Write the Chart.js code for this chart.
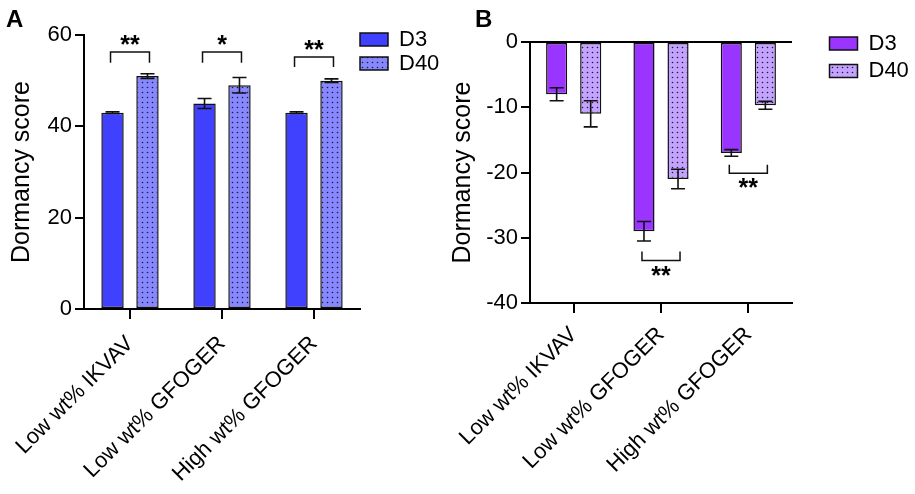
<!DOCTYPE html>
<html>
<head>
<meta charset="utf-8">
<script src="https://cdn.jsdelivr.net/npm/chart.js@4.4.1/dist/chart.umd.min.js"></script>
<style>
  body { margin: 0; background: #fff; }
  .panel { position: absolute; top: 0; }
  .tag { position: absolute; font: bold 24px "Liberation Sans", Arial, sans-serif; line-height: 24px; color: #000; }
</style>
</head>
<body>
<div class="panel" style="left:0"><canvas id="chartA" width="450" height="494"></canvas></div>
<div class="panel" style="left:450px"><canvas id="chartB" width="465" height="494"></canvas></div>
<div class="tag" style="left:6px;top:7px">A</div>
<div class="tag" style="left:475px;top:7px">B</div>
<script>
const categories = ['Low wt% IKVAV', 'Low wt% GFOGER', 'High wt% GFOGER'];
const seriesNames = ['D3', 'D40'];

// panel A
const scoreA_D3 = [43, 45, 43];
const scoreA_D40 = [51, 49, 50];
const errA_D3 = [0.2, 1.1, 0.2];
const errA_D40 = [0.5, 1.7, 0.4];
const ticksA = [0, 20, 40, 60];
const sigA = ['**', '*', '**'];
const sigA_top = [56.3, 56.3, 55.2];
const sigA_leg = [53.9, 53.9, 53.0];

// panel B
const scoreB_D3 = [-8, -29, -17];
const scoreB_D40 = [-11, -21, -9.7];
const errB_D3 = [1, 1.5, 0.5];
const errB_D40 = [2, 1.5, 0.6];
const ticksB = [-40, -30, -20, -10, 0];
const sigB = ['', '**', '**'];
const sigB_top = [null, -33.5, -20.1];
const sigB_leg = [null, -32.1, -18.8];

const FONT = '"Liberation Sans", Arial, sans-serif';

function dots(fill) {
    const c = document.createElement('canvas');
    c.width = 5; c.height = 5;
    const g = c.getContext('2d');
    g.fillStyle = fill;
    g.fillRect(0, 0, 5, 5);
    g.fillStyle = '#1c1c3a';
    g.beginPath();
    g.arc(2.5, 2.5, 0.8, 0, Math.PI * 2);
    g.fill();
    return g.createPattern(c, 'repeat');
}

const errorBars = {
    id: 'errorBars',
    afterDatasetsDraw(chart) {
        const ctx = chart.ctx;
        const y = chart.scales.y;
        ctx.save();
        ctx.strokeStyle = '#111';
        ctx.lineWidth = 1.6;
        chart.data.datasets.forEach((ds, di) => {
            chart.getDatasetMeta(di).data.forEach((bar, i) => {
                const v = ds.data[i], e = ds.errors[i];
                const y1 = y.getPixelForValue(v - e);
                const y2 = y.getPixelForValue(v + e);
                ctx.beginPath();
                ctx.moveTo(bar.x, y1); ctx.lineTo(bar.x, y2);
                ctx.moveTo(bar.x - 7, y1); ctx.lineTo(bar.x + 7, y1);
                ctx.moveTo(bar.x - 7, y2); ctx.lineTo(bar.x + 7, y2);
                ctx.stroke();
            });
        });
        ctx.restore();
    }
};

// significance brackets between the two bars of a group
function brackets(marks, top, leg, textShift) {
    return {
        id: 'brackets',
        afterDatasetsDraw(chart) {
            const ctx = chart.ctx;
            const y = chart.scales.y;
            const m0 = chart.getDatasetMeta(0).data;
            const m1 = chart.getDatasetMeta(1).data;
            ctx.save();
            ctx.strokeStyle = '#111';
            ctx.lineWidth = 1.5;
            ctx.fillStyle = '#000';
            ctx.font = 'bold 25px ' + FONT;
            ctx.textAlign = 'center';
            ctx.textBaseline = 'alphabetic';
            marks.forEach((mark, i) => {
                if (!mark) return;
                const xl = m0[i].x - 2, xr = m1[i].x + 2;
                const yt = y.getPixelForValue(top[i]);
                const yl = y.getPixelForValue(leg[i]);
                ctx.beginPath();
                ctx.moveTo(xl, yl); ctx.lineTo(xl, yt); ctx.lineTo(xr, yt); ctx.lineTo(xr, yl);
                ctx.stroke();
                ctx.fillText(mark, (xl + xr) / 2, yt + textShift);
            });
            ctx.restore();
        }
    };
}

// put the legend next to the plot, top right
function legendSpot(x, y) {
    return {
        id: 'legendSpot',
        afterLayout(chart) {
            const lg = chart.legend;
            lg.left = x; lg.right = x + 110;
            lg.top = y; lg.bottom = y + 120;
        }
    };
}

function makeChart(id, p) {
    return new Chart(document.getElementById(id), {
        type: 'bar',
        data: {
            labels: categories,
            datasets: [
                {
                    label: seriesNames[0],
                    data: p.d3,
                    errors: p.e3,
                    backgroundColor: p.c3,
                    borderColor: '#111',
                    borderWidth: 1.5,
                    borderSkipped: false,
                    categoryPercentage: p.catPct,
                    barPercentage: p.barPct
                },
                {
                    label: seriesNames[1],
                    data: p.d40,
                    errors: p.e40,
                    backgroundColor: dots(p.c40),
                    borderColor: '#111',
                    borderWidth: 1.5,
                    borderSkipped: false,
                    categoryPercentage: p.catPct,
                    barPercentage: p.barPct
                }
            ]
        },
        options: {
            responsive: false,
            animation: false,
            devicePixelRatio: 1,
            layout: { padding: { top: p.top, right: p.right, left: 0, bottom: 0 } },
            scales: {
                x: {
                    offset: true,
                    grid: { offset: false, drawOnChartArea: false, drawTicks: true, tickLength: 10, color: '#000', lineWidth: 2 },
                    border: { display: true, color: '#000', width: 2 },
                    ticks: { color: '#000', font: { family: FONT, size: 22 }, minRotation: 45, maxRotation: 45, padding: p.xPad, autoSkip: false },
                    afterFit(scale) {
                        scale.height = p.xHeight;
                        scale.paddingLeft = 0;
                        scale.paddingRight = 0;
                    }
                },
                y: {
                    min: p.ticks[0],
                    max: p.ticks[p.ticks.length - 1],
                    afterBuildTicks(scale) {
                        scale.ticks = p.ticks.map(v => ({ value: v }));
                    },
                    grid: {
                        drawOnChartArea: p.zeroLine,
                        color: (c) => (p.zeroLine && c.tick && c.tick.value === 0) ? '#000' : 'rgba(0,0,0,0)',
                        tickColor: '#000',
                        tickLength: 9,
                        lineWidth: 2
                    },
                    border: { display: true, color: '#000', width: 2 },
                    ticks: { color: '#000', font: { family: FONT, size: 22 }, padding: 3 },
                    title: {
                        display: true,
                        text: 'Dormancy score',
                        color: '#000',
                        font: { family: FONT, size: 25 },
                        padding: { top: p.titlePad, bottom: 0 }
                    },
                    afterFit(scale) {
                        scale.width = p.yWidth;
                    }
                }
            },
            plugins: {
                legend: {
                    position: 'right',
                    align: 'start',
                    maxWidth: 1,
                    labels: {
                        color: '#000',
                        boxWidth: 28,
                        boxHeight: 13,
                        padding: p.legendGap,
                        font: { family: FONT, size: 22 }
                    }
                },
                tooltip: { enabled: false }
            }
        },
        plugins: [errorBars, brackets(p.sig, p.sigTop, p.sigLeg, p.sigShift), legendSpot(p.legX, p.legY)]
    });
}

makeChart('chartA', {
    d3: scoreA_D3, d40: scoreA_D40, e3: errA_D3, e40: errA_D40,
    c3: '#4040ff', c40: '#8787ff',
    ticks: ticksA, zeroLine: false,
    sig: sigA, sigTop: sigA_top, sigLeg: sigA_leg, sigShift: 1,
    catPct: 0.76, barPct: 0.64,
    top: 35, right: 89, yWidth: 84, xHeight: 185, xPad: 12, titlePad: 7,
    legendGap: 2, legX: 358, legY: 26.5
});

makeChart('chartB', {
    d3: scoreB_D3, d40: scoreB_D40, e3: errB_D3, e40: errB_D40,
    c3: '#9a35ff', c40: '#c3a3ff',
    ticks: ticksB, zeroLine: true,
    sig: sigB, sigTop: sigB_top, sigLeg: sigB_leg, sigShift: 23,
    catPct: 0.78, barPct: 0.62,
    top: 42, right: 122, yWidth: 80, xHeight: 191, xPad: 9, titlePad: -2,
    legendGap: 5.5, legX: 374, legY: 27
});
</script>
</body>
</html>
